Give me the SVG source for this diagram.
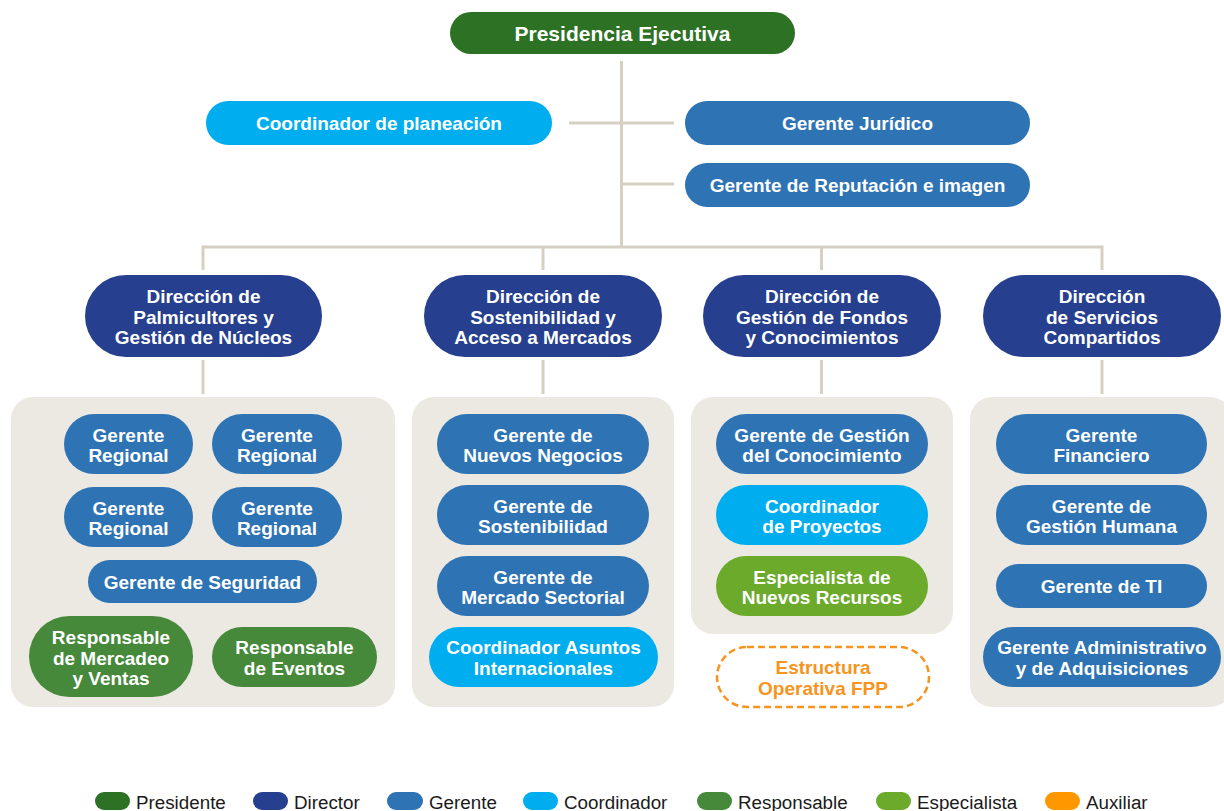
<svg xmlns="http://www.w3.org/2000/svg" width="1224" height="811" viewBox="0 0 1224 811">
<style>
text{font-family:"Liberation Sans",Arial,sans-serif;font-weight:bold;font-size:19px;fill:#fff;text-anchor:middle}
.pres{fill:#2D7124}.dir{fill:#263F8E}.ger{fill:#2E73B4}.coo{fill:#00AEEF}.res{fill:#46893A}.esp{fill:#6BAA2A}.aux{fill:#FF9800}
.panel{fill:#ECE9E3}
.conn line{stroke:#D6D0C2;stroke-width:3;fill:none}
.leg{font-weight:normal;font-size:18.8px;fill:#1a1a1a;text-anchor:start}
.big{font-size:21px}
.orange{fill:#F7941D}
</style>
<rect width="1224" height="811" fill="#fff"/>
<g id="connectors" class="conn">
<line x1="621.5" y1="61" x2="621.5" y2="247"/>
<line x1="569" y1="123" x2="674" y2="123"/>
<line x1="621.5" y1="184" x2="674" y2="184"/>
<line x1="203" y1="247" x2="1102" y2="247"/>
<line x1="203" y1="245.5" x2="203" y2="270"/>
<line x1="543" y1="247" x2="543" y2="270"/>
<line x1="821.5" y1="247" x2="821.5" y2="270"/>
<line x1="1102" y1="245.5" x2="1102" y2="270"/>
<line x1="203" y1="360" x2="203" y2="394"/>
<line x1="543" y1="360" x2="543" y2="394"/>
<line x1="821.5" y1="360" x2="821.5" y2="394"/>
<line x1="1102" y1="360" x2="1102" y2="394"/>
</g>
<g id="presidencia"><rect class="pres" x="450" y="12" width="345" height="42" rx="21"/><text class="big" x="622.5" y="41">Presidencia Ejecutiva</text></g>
<g id="coord-planeacion"><rect class="coo" x="206" y="101" width="346" height="44" rx="22"/><text x="379" y="129.5">Coordinador de planeación</text></g>
<g id="gerente-juridico"><rect class="ger" x="685" y="101" width="345" height="44" rx="22"/><text x="857.5" y="129.5">Gerente Jurídico</text></g>
<g id="gerente-reputacion"><rect class="ger" x="685" y="163" width="345" height="44" rx="22"/><text x="857.5" y="191.5">Gerente de Reputación e imagen</text></g>

<g id="dir-palmicultores"><rect class="dir" x="85" y="275" width="237" height="82" rx="41"/><text x="203.5" y="303">Dirección de</text><text x="203.5" y="324">Palmicultores y</text><text x="203.5" y="344">Gestión de Núcleos</text></g>
<g id="dir-sostenibilidad"><rect class="dir" x="424" y="275" width="238" height="82" rx="41"/><text x="543" y="303">Dirección de</text><text x="543" y="324">Sostenibilidad y</text><text x="543" y="344">Acceso a Mercados</text></g>
<g id="dir-fondos"><rect class="dir" x="703" y="275" width="238" height="82" rx="41"/><text x="822" y="303">Dirección de</text><text x="822" y="324">Gestión de Fondos</text><text x="822" y="344">y Conocimientos</text></g>
<g id="dir-servicios"><rect class="dir" x="983" y="275" width="238" height="82" rx="41"/><text x="1102" y="303">Dirección</text><text x="1102" y="324">de Servicios</text><text x="1102" y="344">Compartidos</text></g>

<g id="panel-1">
<rect class="panel" x="11" y="397" width="384" height="310" rx="22"/>
<g id="gerente-regional-1"><rect class="ger" x="64" y="414" width="129" height="60" rx="30"/><text x="128.5" y="442">Gerente</text><text x="128.5" y="462">Regional</text></g>
<g id="gerente-regional-2"><rect class="ger" x="212" y="414" width="130" height="60" rx="30"/><text x="277" y="442">Gerente</text><text x="277" y="462">Regional</text></g>
<g id="gerente-regional-3"><rect class="ger" x="64" y="487" width="129" height="60" rx="30"/><text x="128.5" y="515">Gerente</text><text x="128.5" y="535">Regional</text></g>
<g id="gerente-regional-4"><rect class="ger" x="212" y="487" width="130" height="60" rx="30"/><text x="277" y="515">Gerente</text><text x="277" y="535">Regional</text></g>
<g id="gerente-seguridad"><rect class="ger" x="88" y="560" width="229" height="43" rx="21.5"/><text x="202.5" y="588.5">Gerente de Seguridad</text></g>
<g id="resp-mercadeo"><rect class="res" x="29" y="616" width="164" height="81" rx="40.5"/><text x="111" y="644">Responsable</text><text x="111" y="664.5">de Mercadeo</text><text x="111" y="685">y Ventas</text></g>
<g id="resp-eventos"><rect class="res" x="212" y="627" width="165" height="60" rx="30"/><text x="294.5" y="654">Responsable</text><text x="294.5" y="674.5">de Eventos</text></g>
</g>

<g id="panel-2">
<rect class="panel" x="412" y="397" width="262" height="310" rx="22"/>
<g id="gerente-nuevos-negocios"><rect class="ger" x="437" y="414" width="212" height="60" rx="30"/><text x="543" y="442">Gerente de</text><text x="543" y="462">Nuevos Negocios</text></g>
<g id="gerente-sostenibilidad"><rect class="ger" x="437" y="485" width="212" height="60" rx="30"/><text x="543" y="513">Gerente de</text><text x="543" y="533">Sostenibilidad</text></g>
<g id="gerente-mercado"><rect class="ger" x="437" y="556" width="212" height="60" rx="30"/><text x="543" y="583.5">Gerente de</text><text x="543" y="604">Mercado Sectorial</text></g>
<g id="coord-asuntos"><rect class="coo" x="429" y="627" width="229" height="60" rx="30"/><text x="543.5" y="654">Coordinador Asuntos</text><text x="543.5" y="674.5">Internacionales</text></g>
</g>

<g id="panel-3">
<rect class="panel" x="691" y="397" width="262" height="237" rx="22"/>
<g id="gerente-conocimiento"><rect class="ger" x="716" y="414" width="212" height="60" rx="30"/><text x="822" y="442">Gerente de Gestión</text><text x="822" y="462">del Conocimiento</text></g>
<g id="coord-proyectos"><rect class="coo" x="716" y="485" width="212" height="60" rx="30"/><text x="822" y="513">Coordinador</text><text x="822" y="533">de Proyectos</text></g>
<g id="esp-recursos"><rect class="esp" x="716" y="556" width="212" height="60" rx="30"/><text x="822" y="583.5">Especialista de</text><text x="822" y="604">Nuevos Recursos</text></g>
</g>
<g id="estructura-fpp"><rect x="717" y="647" width="212" height="60" rx="30" fill="none" stroke="#F7941D" stroke-width="2.5" stroke-dasharray="7 4"/><text class="orange" x="823" y="674">Estructura</text><text class="orange" x="823" y="695">Operativa FPP</text></g>

<g id="panel-4">
<rect class="panel" x="970" y="397" width="262" height="310" rx="22"/>
<g id="gerente-financiero"><rect class="ger" x="996" y="414" width="211" height="60" rx="30"/><text x="1101.5" y="442">Gerente</text><text x="1101.5" y="462">Financiero</text></g>
<g id="gerente-humana"><rect class="ger" x="996" y="485" width="211" height="60" rx="30"/><text x="1101.5" y="513">Gerente de</text><text x="1101.5" y="533">Gestión Humana</text></g>
<g id="gerente-ti"><rect class="ger" x="996" y="564" width="211" height="44" rx="22"/><text x="1101.5" y="592.5">Gerente de TI</text></g>
<g id="gerente-administrativo"><rect class="ger" x="983" y="627" width="238" height="60" rx="30"/><text x="1102" y="654">Gerente Administrativo</text><text x="1102" y="674.5">y de Adquisiciones</text></g>
</g>

<g id="legend">
<rect class="pres" x="95" y="792" width="35" height="18" rx="9"/><text class="leg" x="136" y="809">Presidente</text>
<rect class="dir" x="253" y="792" width="35" height="18" rx="9"/><text class="leg" x="294" y="809">Director</text>
<rect class="ger" x="387" y="792" width="36" height="18" rx="9"/><text class="leg" x="429" y="809">Gerente</text>
<rect class="coo" x="523" y="792" width="35" height="18" rx="9"/><text class="leg" x="564" y="809">Coordinador</text>
<rect class="res" x="697" y="792" width="35" height="18" rx="9"/><text class="leg" x="738" y="809">Responsable</text>
<rect class="esp" x="876" y="792" width="35" height="18" rx="9"/><text class="leg" x="917" y="809">Especialista</text>
<rect class="aux" x="1045" y="792" width="35" height="18" rx="9"/><text class="leg" x="1086" y="809">Auxiliar</text>
</g>
</svg>
